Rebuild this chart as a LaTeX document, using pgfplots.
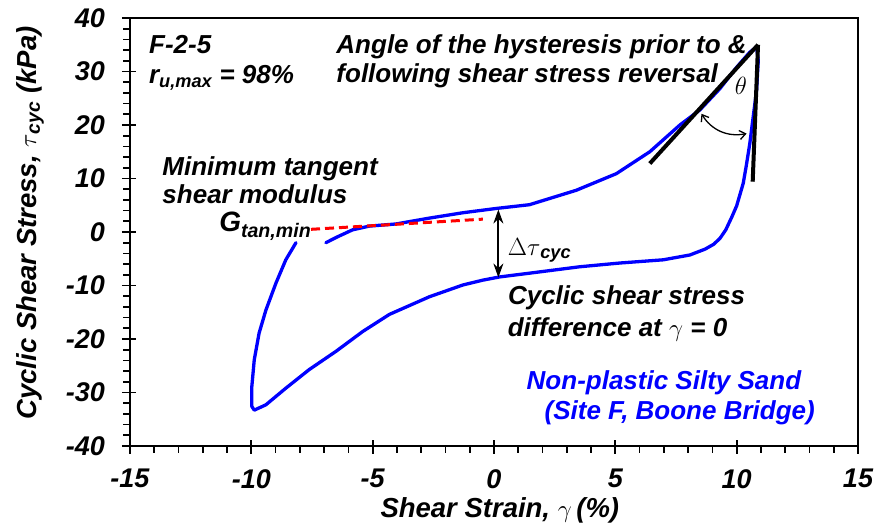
\documentclass[border=0pt]{standalone}
\usepackage{fontspec}
\setmainfont{Liberation Sans}
\usepackage{pgfplots}
\pgfplotsset{compat=1.18}
\usetikzlibrary{arrows.meta}

\newcommand{\lbl}{\fontsize{26}{30}\selectfont\bfseries\itshape}

\begin{document}
\begin{tikzpicture}
\path[use as bounding box] (0,0) rectangle (877pt,526pt);
\begin{axis}[
  at={(130pt,80pt)}, anchor=south west,
  scale only axis, width=728pt, height=428pt,
  xmin=-15, xmax=15, ymin=-40, ymax=40,
  xtick={-15,-10,...,15}, ytick={-40,-30,...,40},
  minor x tick num=4, minor y tick num=4,
  xtick pos=bottom, ytick pos=left,
  tick align=outside,
  major tick length=8pt, minor tick length=7pt,
  every tick/.style={black, line width=1.7pt},
  axis line style={line width=2.2pt},
  extra x ticks={-15,-10,...,15}, extra y ticks={-40,-30,...,40},
  extra x tick labels={}, extra y tick labels={},
  extra tick style={tick align=inside, major tick length=6pt},
  /pgf/number format/assume math mode=true,
  ticklabel style={font=\fontsize{27}{27}\selectfont\bfseries\itshape, inner sep=0pt},
  xticklabel style={anchor=north},
  yticklabel style={anchor=east},
  xticklabel shift=15pt, yticklabel shift=17pt,
  label style={font=\fontsize{27.5}{30}\selectfont\bfseries\itshape},
  xlabel={Shear Strain, $\gamma$\,(\%)},
  xlabel style={at={(axis description cs:0.508,0)}, anchor=base, yshift=-72pt},
  ylabel={Cyclic Shear Stress, $\tau$\textsubscript{cyc} (kPa)},
  ylabel style={at={(axis description cs:-0.129,0.521)}, anchor=base, rotate=0},
  clip=false,
]
% hysteresis loop
\addplot[blue, line width=3.3pt, line join=round, line cap=round] coordinates {
  (-6.93,-2.0) (-6.45,-0.9) (-5.83,0.4) (-5.14,1.1) (-4.04,1.5) (-2.66,2.6)
  (-1.28,3.6) (0.09,4.4) (1.46,5.1) (3.39,7.8) (5.04,10.9) (6.42,15.0)
  (7.66,20.0) (8.48,22.8) (9.31,26.8) (10.0,30.8) (10.54,33.6) (10.82,34.6)
  (10.89,32.1) (10.82,26.5) (10.68,21.5) (10.54,16.5) (10.40,12.5) (10.27,9.1)
  (10.0,4.9) (9.80,2.8) (9.55,0.4) (9.31,-1.2) (9.05,-2.3) (8.70,-3.2)
  (8.07,-4.3) (6.97,-5.2) (5.18,-5.8) (3.53,-6.5) (1.46,-7.7) (0.23,-8.4)
  (-0.46,-9.0) (-1.28,-9.9) (-2.66,-12.1) (-4.31,-15.4) (-5.41,-18.6)
  (-6.51,-22.3) (-7.61,-25.7) (-8.58,-29.2) (-9.40,-32.3) (-9.88,-33.3)
  (-9.98,-32.6) (-9.98,-28.9) (-9.88,-23.9) (-9.68,-18.9) (-9.40,-14.6)
  (-8.99,-9.6) (-8.58,-5.2) (-8.16,-2.0)
};
% minimum tangent modulus
\addplot[red, line width=3pt, dash pattern=on 9pt off 5pt] coordinates {(-7.54,0.5) (-0.46,2.4)};
% tangents before and after reversal
\addplot[black, line width=4pt] coordinates {(6.42,12.8) (10.88,35.0)};
\addplot[black, line width=4pt] coordinates {(10.88,35.0) (10.66,9.4)};

\draw[{Straight Barb[length=6pt,width=9pt]}-{Straight Barb[length=6pt,width=9pt]}, line width=1.3pt]
  (axis cs:8.55,22.1) to[bend right=35] (axis cs:10.41,18.4);
\node at (axis cs:10.17,27.4) {\fontsize{32}{32}\selectfont$\theta$};

\draw[{Stealth[length=14pt,width=10pt]}-{Stealth[length=14pt,width=10pt]}, line width=1.8pt]
  (axis cs:0.18,4.2) -- (axis cs:0.18,-8.5);

\node[anchor=base west, inner sep=0pt, font=\lbl] at (axis cs:-14.22,33.4) {F-2-5};
\node[anchor=base west, inner sep=0pt, font=\lbl] at (axis cs:-14.22,27.8) {r\textsubscript{u,max} = 98\%};
\node[anchor=base west, inner sep=0pt, font=\lbl] at (axis cs:-6.5,33.3) {Angle of the hysteresis prior to \&};
\node[anchor=base west, inner sep=0pt, font=\lbl] at (axis cs:-6.5,28.0) {following shear stress reversal};
\node[anchor=base west, inner sep=0pt, font=\lbl] at (axis cs:-13.67,10.6) {Minimum tangent};
\node[anchor=base west, inner sep=0pt, font=\lbl] at (axis cs:-13.67,5.35) {shear modulus};
\node[anchor=base west, inner sep=0pt, font=\lbl] at (axis cs:-11.33,0.0) {\fontsize{28}{30}\selectfont G\textsubscript{tan,min}};
\node[anchor=base west, inner sep=0pt, font=\lbl] at (axis cs:0.56,-4.3) {$\Delta\tau$\textsubscript{cyc}};
\node[anchor=base west, inner sep=0pt, font=\lbl] at (axis cs:0.57,-13.6) {Cyclic shear stress};
\node[anchor=base west, inner sep=0pt, font=\lbl] at (axis cs:0.56,-19.5) {difference at $\gamma$ = 0};
\node[anchor=base west, inner sep=0pt, font=\lbl, text=blue] at (axis cs:1.34,-29.5) {Non-plastic Silty Sand};
\node[anchor=base west, inner sep=0pt, font=\lbl, text=blue] at (axis cs:2.08,-35.1) {(Site F, Boone Bridge)};
\end{axis}
\end{tikzpicture}
\end{document}
